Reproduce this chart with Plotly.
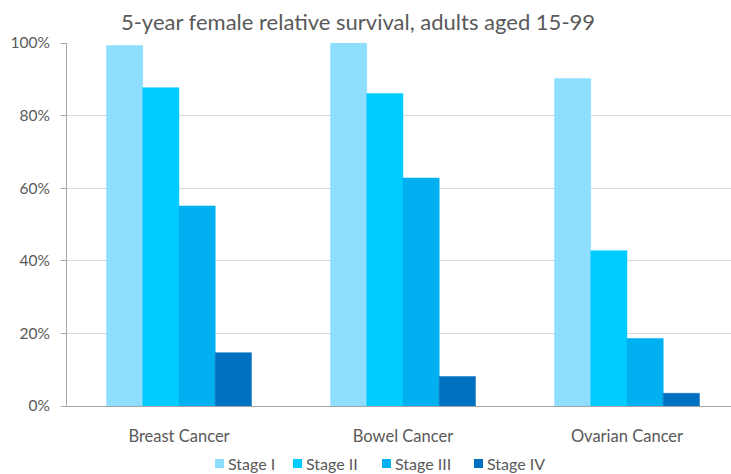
import plotly.graph_objects as go

# Survival data: 5-year relative survival (%) by stage
cancers = ["Breast Cancer", "Bowel Cancer", "Ovarian Cancer"]
stages = ["Stage I", "Stage II", "Stage III", "Stage IV"]
stage_i = [99.3, 100.0, 90.2]
stage_ii = [87.7, 86.1, 42.8]
stage_iii = [55.1, 62.8, 18.6]
stage_iv = [14.7, 8.1, 3.5]
y_ticks = [0, 20, 40, 60, 80, 100]

series = [stage_i, stage_ii, stage_iii, stage_iv]
colors = ["#8EDFFF", "#00CCFF", "#00B0F0", "#0070C0"]

W, H = 731, 474
font_family = "Lato, 'Open Sans', sans-serif"
text_grey = "#595959"

fig = go.Figure()
for name, vals, col in zip(stages, series, colors):
    fig.add_trace(go.Bar(
        x=cancers, y=vals, name=name,
        marker=dict(color=col, line=dict(color=col, width=0.5)),
        hoverinfo="skip", showlegend=False,
    ))

# plot area spans x 67..731, with categories 224 px apart
plot_left, plot_top, plot_bottom = 67, 43, 68
cat_px = 224
x_span = (W - plot_left) / cat_px

# legend row under the axis: square swatch + label, placed in pixel terms
legend_swatch_x = [215, 293, 382, 474]
swatch = 9
legend_mid_y = 463.5
shapes, annotations = [], []
for name, col, sx in zip(stages, colors, legend_swatch_x):
    shapes.append(dict(
        type="rect", xref="paper", yref="paper",
        x0=(sx - plot_left) / (W - plot_left),
        x1=(sx + swatch - plot_left) / (W - plot_left),
        y0=(H - plot_bottom - (legend_mid_y + swatch / 2)) / (H - plot_top - plot_bottom),
        y1=(H - plot_bottom - (legend_mid_y - swatch / 2)) / (H - plot_top - plot_bottom),
        fillcolor=col, line=dict(width=0),
    ))
    annotations.append(dict(
        text=name, xref="paper", yref="paper", showarrow=False,
        x=(sx + swatch + 2 - plot_left) / (W - plot_left), xanchor="left",
        y=(H - plot_bottom - legend_mid_y) / (H - plot_top - plot_bottom), yanchor="middle",
        font=dict(size=16, color=text_grey, family=font_family),
    ))

fig.update_layout(
    width=W, height=H,
    margin=dict(l=plot_left, r=0, t=plot_top, b=plot_bottom, autoexpand=False),
    paper_bgcolor="white", plot_bgcolor="white",
    barmode="group", bargap=0.353, bargroupgap=0,
    font=dict(family=font_family, color=text_grey, size=14),
    title=dict(
        text="5-year female relative survival, adults aged 15-99",
        x=358 / W, xanchor="center", y=1 - 22 / H, yanchor="middle",
        font=dict(size=22, color=text_grey, family=font_family),
    ),
    xaxis=dict(
        type="category", range=[-0.5, -0.5 + x_span],
        showline=True, linecolor="#A6A6A6", linewidth=1,
        ticks="", showgrid=False, ticklabelstandoff=15,
        tickfont=dict(size=16.5, color=text_grey),
    ),
    yaxis=dict(
        range=[0, 100], tickvals=y_ticks,
        ticktext=[f"{v}%" for v in y_ticks],
        showline=True, linecolor="#A6A6A6", linewidth=1,
        ticks="outside", ticklen=5, tickcolor="#A6A6A6",
        showgrid=True, gridcolor="#D9D9D9", gridwidth=1,
        zeroline=False, ticklabelstandoff=8,
        tickfont=dict(size=15.5, color=text_grey),
    ),
    shapes=shapes,
    annotations=annotations,
    showlegend=False,
)

fig.write_html("out.html")
